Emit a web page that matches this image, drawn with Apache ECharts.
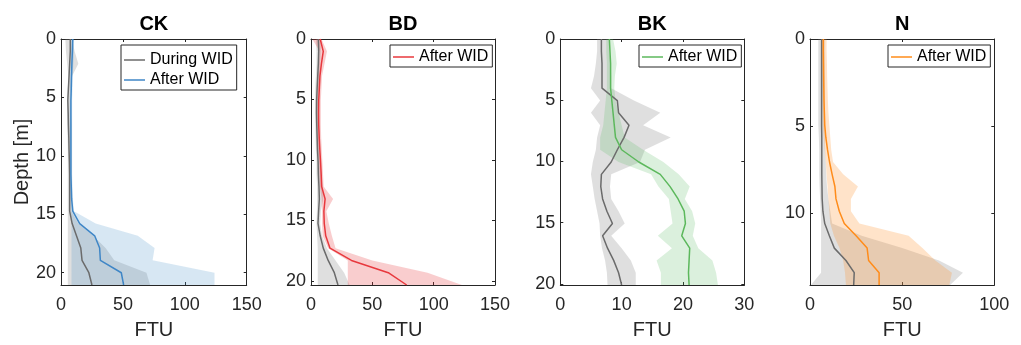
<!DOCTYPE html>
<html>
<head>
<meta charset="utf-8">
<script src="https://cdn.jsdelivr.net/npm/echarts@6/dist/echarts.min.js"></script>
<style>html,body{margin:0;padding:0;background:#fff;}#c{width:1021px;height:345px;}</style>
</head>
<body>
<div id="c"></div>
<script>
// ---------- data ----------
const titles = ['CK', 'BD', 'BK', 'N'];
const xTicksCK = [0, 50, 100, 150];
const xTicksBD = [0, 50, 100, 150];
const xTicksBK = [0, 10, 20, 30];
const xTicksN = [0, 50, 100];
const yTicks = [0, 5, 10, 15, 20];
const yMaxCK = 21.06, yMaxBD = 20.35, yMaxBK = 20.10, yMaxN = 14.14;

const ckDepth = [0, 1.05, 2.11, 3.16, 4.21, 5.27, 6.32, 7.37, 8.42, 9.48, 10.53, 11.58, 12.64, 13.69, 14.74, 15.80, 16.85, 17.90, 18.95, 20.01, 21.06];
const ckDuring = [7.5, 7.5, 7, 6.5, 6, 5.5, 5.8, 6, 6.3, 6.5, 6.8, 7, 7, 7, 7, 9, 12.5, 16, 17, 22.5, 25];
const ckDuringLo = [3.5, 4, 5, 6, 5.5, 5, 5, 5, 5.3, 5.5, 5.5, 5.5, 5.5, 5.5, 5.5, 5.5, 5.5, 5.5, 5.5, 5.5, 5.5];
const ckDuringHi = [9, 11, 14, 9, 8, 7.5, 8, 8.5, 8.5, 8.5, 8.5, 8.5, 8.5, 8.5, 8.5, 14, 26, 36, 43, 69, 72];
const ckAfter = [9.5, 9.2, 8.8, 8.5, 8.3, 8, 8, 8, 8, 8, 8, 8, 8.3, 8.6, 9.5, 15.1, 27.2, 31.2, 31.8, 48.7, 50.6];
const ckAfterLo = [8, 8, 7.5, 7.5, 7.3, 7, 7, 7, 7, 7, 7, 7, 7.3, 7.6, 8, 8.5, 8.5, 8.5, 8.5, 8.5, 8.5];
const ckAfterHi = [10.5, 10.5, 10, 9.5, 9.3, 9, 9, 9, 9, 9, 9, 9, 9.3, 9.6, 10.5, 28, 62, 75.6, 74, 124, 124];

const bdDepth = [0, 1.02, 2.04, 3.05, 4.07, 5.09, 6.11, 7.12, 8.14, 9.16, 10.18, 11.19, 12.21, 13.23, 14.25, 15.26, 16.28, 17.30, 18.32, 19.33, 20.35];
const bdDuring = [6, 6.3, 6, 5.5, 5, 4.6, 4.5, 4.7, 5, 5.3, 5.8, 6, 6.5, 6.8, 6.2, 5.7, 7.5, 10, 14, 19, 22];
const bdDuringLo = [4, 4.5, 4.5, 4, 3.5, 3.3, 3.3, 3.5, 3.8, 4, 4.5, 4.5, 5, 5, 4.8, 4.5, 5, 5.5, 5.5, 5.5, 5.5];
const bdDuringHi = [8, 8, 7.5, 7, 6.5, 6, 6, 6, 6.5, 7, 7.5, 8.5, 9.5, 10, 8, 7.5, 9, 13, 20, 27, 31.5];
const bdAfter = [7.5, 10, 8.5, 7.3, 6.8, 6.3, 6.2, 6.3, 6.7, 7.2, 7.8, 8.3, 8.7, 11.5, 10.5, 10.8, 12, 15.5, 33, 63, 78];
const bdAfterLo = [1, 7, 6.5, 5.5, 5.3, 5, 5, 5, 5.3, 5.8, 6.3, 6.8, 7.3, 8.7, 9, 9, 9.5, 14, 30, 30, 30];
const bdAfterHi = [8.5, 13, 11, 9, 8.5, 8, 8, 8, 8.3, 8.8, 9.3, 9.8, 10.3, 18, 12.5, 14.5, 17, 20, 50, 95, 123];

const bkDepth = [0, 1.01, 2.01, 3.02, 4.02, 5.03, 6.03, 7.04, 8.04, 9.05, 10.05, 11.06, 12.06, 13.07, 14.07, 15.08, 16.08, 17.09, 18.09, 19.10, 20.10];
const bkDuring = [6.7, 6.7, 6.8, 6.8, 6.8, 9.3, 9.5, 11.2, 10.4, 9.3, 8.3, 6.7, 6.6, 6.9, 7.6, 8.5, 6.9, 7.7, 8.7, 9.5, 10];
const bkDuringLo = [6.0, 6.0, 5.8, 5.5, 5.0, 6.5, 5.0, 6.5, 6.0, 5.8, 5.3, 5.0, 5.3, 5.6, 6.0, 6.4, 6.5, 6.8, 7.3, 7.6, 7.7];
const bkDuringHi = [8.0, 8.0, 8.2, 8.3, 8.3, 12, 16.3, 13.5, 18, 13.8, 13, 8.3, 8.1, 8.3, 9.5, 10.5, 8.3, 10, 11.5, 12.3, 12.3];
const bkAfter = [8.0, 8.1, 8.2, 8.2, 8.2, 8.4, 8.6, 8.8, 9.0, 10.0, 12.8, 16.3, 17.9, 19.2, 20.2, 20.4, 19.8, 21.1, 21.0, 20.9, 21.0];
const bkAfterLo = [7.5, 7.5, 7.6, 7.6, 7.6, 7.4, 7.2, 7.0, 6.5, 6.5, 9.5, 14.8, 16.0, 17.7, 18.0, 18.3, 15.9, 18.2, 15.7, 16.4, 16.4];
const bkAfterHi = [8.6, 9.0, 9.2, 8.9, 8.8, 9.0, 9.5, 10, 10.5, 13.5, 16.8, 19.3, 21.1, 20.3, 21.5, 22.0, 21.6, 22.5, 24.8, 25.4, 25.7];

const nDepth = [0, 0.71, 1.41, 2.12, 2.83, 3.54, 4.24, 4.95, 5.66, 6.36, 7.07, 7.78, 8.48, 9.19, 9.90, 10.61, 11.31, 12.02, 12.73, 13.43, 14.14];
const nDuring = [6.3, 6.3, 6.3, 6.3, 6.3, 6.3, 6.3, 6.3, 6.4, 6.4, 6.4, 6.4, 6.5, 6.6, 7.0, 8.0, 10.5, 13.2, 19.5, 24, 23.7];
const nDuringLo = [4.5, 4.5, 4.5, 4.5, 4.5, 4.5, 4.5, 4.5, 4.8, 5, 5, 5, 5.2, 5.5, 5.8, 6, 6, 6, 6, 6, 0.5];
const nDuringHi = [8, 8, 8, 8, 8, 8, 8, 8, 8, 8.2, 8.5, 8.8, 9.2, 10, 11, 12, 28, 50, 70, 83, 76];
const nAfter = [7.2, 7.2, 7.3, 7.4, 7.5, 7.6, 7.8, 8.0, 8.6, 9.5, 10.6, 12.0, 13.5, 14.1, 15.9, 18.6, 25, 31, 31.8, 37.5, 37.5];
const nAfterLo = [6.5, 6.5, 6.6, 6.6, 6.7, 6.8, 6.9, 7.0, 7.5, 8, 8.5, 9, 9.5, 10, 10.5, 11, 13, 16, 18, 19, 19.5];
const nAfterHi = [9, 9, 9.2, 9.3, 9.5, 9.7, 10, 10.5, 11, 11.5, 12.5, 18, 26, 22.2, 22.2, 26.8, 53.5, 61, 68, 77, 75.6];

const legendCK = ['During WID', 'After WID'];
const legendOther = ['After WID'];

// ---------- layout / style ----------
const FONT = '"Liberation Sans", Arial, Helvetica, sans-serif';
const AX = '#262626';
const panels = [
  { key: 'CK', xTicks: xTicksCK, yMax: yMaxCK, depth: ckDepth, during: [ckDuring, ckDuringLo, ckDuringHi], after: [ckAfter, ckAfterLo, ckAfterHi],
    line: '#3f86c6', fill: 'rgba(74,144,200,0.22)', legend: legendCK, left: 61, width: 185.7, legLeft: 121 },
  { key: 'BD', xTicks: xTicksBD, yMax: yMaxBD, depth: bdDepth, during: [bdDuring, bdDuringLo, bdDuringHi], after: [bdAfter, bdAfterLo, bdAfterHi],
    line: '#e8383d', fill: 'rgba(232,56,61,0.25)', legend: legendOther, left: 311, width: 184, legLeft: 390 },
  { key: 'BK', xTicks: xTicksBK, yMax: yMaxBK, depth: bkDepth, during: [bkDuring, bkDuringLo, bkDuringHi], after: [bkAfter, bkAfterLo, bkAfterHi],
    line: '#5cb85c', fill: 'rgba(93,187,99,0.22)', legend: legendOther, left: 560.3, width: 184, legLeft: 639 },
  { key: 'N', xTicks: xTicksN, yMax: yMaxN, depth: nDepth, during: [nDuring, nDuringLo, nDuringHi], after: [nAfter, nAfterLo, nAfterHi],
    line: '#ff8c1a', fill: 'rgba(255,145,38,0.25)', legend: legendOther, left: 810, width: 184.3, legLeft: 888 }
];
const GREY_LINE = '#6b6b6b';
const GREY_FILL = 'rgba(128,128,128,0.25)';
const TOP = 39, HEIGHT = 252.7;

const grid = [], xAxis = [], yAxis = [], series = [], title = [], legend = [];

function band(gi, name, depth, lo, hi, color) {
  return {
    type: 'custom', name: name, xAxisIndex: gi * 2, yAxisIndex: gi * 2, silent: true, z: 1,
    data: depth.map((d, i) => [lo[i], d, hi[i]]),
    encode: { x: [0, 2], y: 1 },
    renderItem: function (params, api) {
      if (params.dataIndex !== 0) return { type: 'group', children: [] };
      const pts = [];
      for (let i = 0; i < depth.length; i++) pts.push(api.coord([lo[i], depth[i]]));
      for (let i = depth.length - 1; i >= 0; i--) pts.push(api.coord([hi[i], depth[i]]));
      return { type: 'polygon', shape: { points: pts }, style: { fill: color, stroke: null } };
    }
  };
}
function line(gi, name, depth, vals, color) {
  return {
    type: 'line', name: name, xAxisIndex: gi * 2, yAxisIndex: gi * 2, z: 3,
    data: depth.map((d, i) => [vals[i], d]),
    symbol: 'none', lineStyle: { color: color, width: 1.5 }, itemStyle: { color: color }
  };
}

panels.forEach((p, gi) => {
  grid.push({ left: p.left, top: TOP, width: p.width, height: HEIGHT });
  const xmin = p.xTicks[0], xmax = p.xTicks[p.xTicks.length - 1], xint = p.xTicks[1] - p.xTicks[0];
  const yint = yTicks[1] - yTicks[0];
  const tick = { show: true, inside: true, length: 3, lineStyle: { color: AX, width: 1 } };
  const aline = { show: true, onZero: false, lineStyle: { color: AX, width: 1 } };
  xAxis.push({
    type: 'value', gridIndex: gi, position: 'bottom', min: xmin, max: xmax, interval: xint,
    axisLine: aline, axisTick: tick, splitLine: { show: false },
    axisLabel: { fontSize: 18, color: AX, fontFamily: FONT, margin: 11 },
    name: 'FTU', nameLocation: 'middle', nameGap: 35,
    nameTextStyle: { fontSize: 20, color: AX, fontFamily: FONT }
  });
  xAxis.push({
    type: 'value', gridIndex: gi, position: 'top', min: xmin, max: xmax, interval: xint,
    axisLine: aline, axisTick: tick, splitLine: { show: false }, axisLabel: { show: false }
  });
  yAxis.push({
    type: 'value', gridIndex: gi, position: 'left', inverse: true, min: 0, max: p.yMax, interval: yint,
    axisLine: aline, axisTick: tick, splitLine: { show: false },
    axisLabel: { fontSize: 18, color: AX, fontFamily: FONT, margin: 5, showMaxLabel: false },
    name: gi === 0 ? 'Depth [m]' : '', nameLocation: 'middle', nameGap: 25, nameRotate: 90,
    nameTextStyle: { fontSize: 20, color: AX, fontFamily: FONT }
  });
  yAxis.push({
    type: 'value', gridIndex: gi, position: 'right', inverse: true, min: 0, max: p.yMax, interval: yint,
    axisLine: aline, axisTick: tick, splitLine: { show: false }, axisLabel: { show: false }
  });

  series.push(band(gi, p.key + '|During band', p.depth, p.during[1], p.during[2], GREY_FILL));
  series.push(band(gi, p.key + '|After band', p.depth, p.after[1], p.after[2], p.fill));
  series.push(line(gi, p.key + '|During WID', p.depth, p.during[0], GREY_LINE));
  series.push(line(gi, p.key + '|After WID', p.depth, p.after[0], p.line));

  title.push({
    text: titles[gi], left: p.left + p.width / 2, textAlign: 'center', top: 14, padding: 0,
    textStyle: { fontSize: 20, fontWeight: 'bold', color: '#000', fontFamily: FONT }
  });
  legend.push({
    left: p.legLeft, top: 45, orient: 'vertical', selectedMode: false,
    data: p.legend.map(n => p.key + '|' + n),
    formatter: n => n.split('|')[1],
    icon: 'rect', itemWidth: 21, itemHeight: 1.5, itemGap: 4,
    padding: p.legend.length > 1 ? [7, 4, 2, 3] : [4, 4, 2, 3],
    borderColor: AX, borderWidth: 1, borderRadius: 0, backgroundColor: '#fff',
    textStyle: { fontSize: 16, color: '#000', fontFamily: FONT, lineHeight: 16 }
  });
});

const chart = echarts.init(document.getElementById('c'), null, { renderer: 'canvas' });
chart.setOption({ animation: false, backgroundColor: '#fff', title, legend, grid, xAxis, yAxis, series });
</script>
</body>
</html>
